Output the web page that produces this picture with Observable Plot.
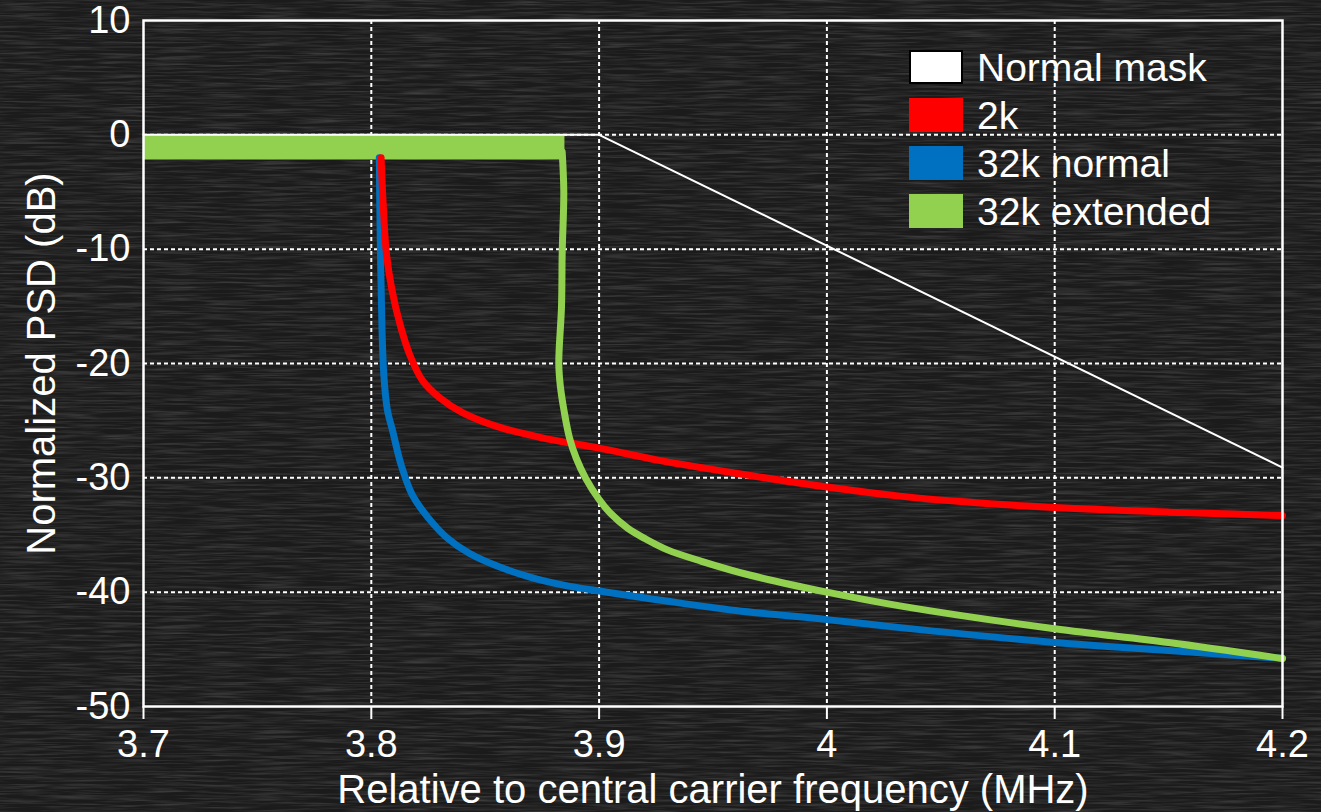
<!DOCTYPE html>
<html><head><meta charset="utf-8">
<script src="https://cdn.jsdelivr.net/npm/d3@7"></script>
<script src="https://cdn.jsdelivr.net/npm/@observablehq/plot@0.6"></script>
<style>
html,body{margin:0;padding:0;background:#1c1c1c;}
#wrap{position:relative;width:1321px;height:812px;overflow:hidden;font-family:"Liberation Sans",Arial,sans-serif;}
#bg{position:absolute;left:0;top:0;}
#chart{position:absolute;left:0;top:0;}
#legend{position:absolute;left:909px;top:43px;color:white;font-size:39px;line-height:1;}
.row{display:flex;align-items:center;height:48px;}
.sw{width:54px;height:34px;margin-right:14px;box-sizing:border-box;}
</style></head><body>
<div id="wrap">
<svg id="bg" width="1321" height="812">
  <filter id="grain" x="0" y="0" width="100%" height="100%">
    <feTurbulence type="fractalNoise" baseFrequency="0.02 0.45" numOctaves="3" seed="7"/>
    <feColorMatrix type="matrix" values="0 0 0 0 1  0 0 0 0 1  0 0 0 0 1  1.4 0 0 0 -0.55"/>
  </filter>
  <rect width="1321" height="812" fill="#1b1b1b"/>
  <rect width="1321" height="812" filter="url(#grain)" opacity="0.22"/>
</svg>
<div id="chart"></div>
<div id="legend"></div>
</div>
<script>
// ---- data ----
const xTicks = [3.7, 3.8, 3.9, 4.0, 4.1, 4.2];
const yTicks = [10, 0, -10, -20, -30, -40, -50];

const seriesNames = ["Normal mask", "2k", "32k normal", "32k extended"];
const seriesColors = ["#ffffff", "#ff0000", "#0070c0", "#92d050"];

const maskFreq = [3.7, 3.9, 4.2];
const maskPsd  = [0, 0, -29.1];

const redFreq = [3.8043, 3.8052, 3.8066, 3.8090, 3.8125, 3.8170, 3.8225, 3.8300, 3.8400, 3.8550, 3.8750, 3.9000, 3.9270, 3.9600, 4.0000, 4.0320, 4.0600, 4.1000, 4.1500, 4.2000];
const redPsd  = [-2, -6, -10.3, -13.5, -16.5, -19.3, -21.5, -23.0, -24.3, -25.5, -26.5, -27.4, -28.5, -29.6, -30.8, -31.6, -32.1, -32.6, -33.0, -33.3];

const blueFreq = [3.8035, 3.8040, 3.8047, 3.8055, 3.8070, 3.8095, 3.8130, 3.8180, 3.8250, 3.8330, 3.8430, 3.8550, 3.8700, 3.8850, 3.9000, 3.9270, 3.9600, 4.0000, 4.0320, 4.1000, 4.1500, 4.2000];
const bluePsd  = [-2, -10, -17, -21, -24, -26, -28.8, -31.5, -33.5, -35.2, -36.6, -37.7, -38.7, -39.4, -39.9, -40.7, -41.6, -42.4, -43.1, -44.4, -45.1, -45.8];

const greenBandFreq = [3.7, 3.885];
const greenBandTop = [0, 0];
const greenBandBottom = [-2.2, -2.2];

const greenFreq = [3.8838, 3.8845, 3.8838, 3.8835, 3.8823, 3.8830, 3.8845, 3.8870, 3.8900, 3.8940, 3.9000, 3.9050, 3.9125, 3.9200, 3.9300, 3.9450, 3.9660, 4.0000, 4.0320, 4.1000, 4.1500, 4.2000];
const greenPsd  = [-1.5, -5, -10.3, -15, -20, -22, -24, -26.5, -28.3, -30, -31.9, -33.1, -34.4, -35.3, -36.3, -37.3, -38.5, -40.0, -41.2, -43.2, -44.4, -45.8];

const xTitle = "Relative to central carrier frequency (MHz)";
const yTitle = "Normalized PSD (dB)";

// ---- build tables ----
const zip = (xs, ys) => xs.map((x, i) => ({x, y: ys[i]}));
const mask = zip(maskFreq, maskPsd);
const red = zip(redFreq, redPsd);
const blue = zip(blueFreq, bluePsd);
const green = zip(greenFreq, greenPsd);
const band = greenBandFreq.map((x, i) => ({x, y1: greenBandBottom[i], y2: greenBandTop[i]}));

const dotted = {stroke: "white", strokeOpacity: 1, strokeWidth: 2, strokeDasharray: "4,3"};
const lw = 7;

const chart = Plot.plot({
  width: 1321,
  height: 812,
  marginLeft: 143,
  marginRight: 39,
  marginTop: 20,
  marginBottom: 106,
  style: {background: "transparent", color: "white", fontFamily: "'Liberation Sans', Arial, sans-serif", overflow: "visible"},
  x: {domain: [3.7, 4.2]},
  y: {domain: [-50, 10]},
  marks: [
    Plot.gridX(xTicks.slice(1, -1), dotted),
    Plot.gridY(yTicks.slice(1, -1), dotted),
    Plot.areaY(band, {x: "x", y1: "y1", y2: "y2", fill: seriesColors[3]}),
    Plot.line(mask, {x: "x", y: "y", stroke: seriesColors[0], strokeWidth: 2}),
    Plot.line(blue, {x: "x", y: "y", stroke: seriesColors[2], strokeWidth: lw, curve: "catmull-rom"}),
    Plot.line(red, {x: "x", y: "y", stroke: seriesColors[1], strokeWidth: lw, curve: "catmull-rom"}),
    Plot.line(green, {x: "x", y: "y", stroke: seriesColors[3], strokeWidth: lw, curve: "catmull-rom"}),
    Plot.frame({stroke: "white", strokeWidth: 2.5}),
    Plot.axisX(xTicks, {tickSize: 13, tickPadding: 11, fontSize: 38, strokeWidth: 2, tickFormat: d => String(+d.toFixed(1)), label: null}),
    Plot.axisY(yTicks, {tickSize: 0, tickPadding: 13, fontSize: 38, tickFormat: d => String(d), label: null}),
    Plot.text([xTitle], {frameAnchor: "bottom", lineAnchor: "middle", textAnchor: "middle", dy: 84, fontSize: 40, fill: "white"}),
    Plot.text([yTitle], {frameAnchor: "left", lineAnchor: "middle", textAnchor: "middle", rotate: -90, dx: -101, fontSize: 40, fill: "white"})
  ]
});
document.getElementById("chart").appendChild(chart);

// ---- legend ----
const legend = document.getElementById("legend");
seriesNames.forEach((name, i) => {
  const row = document.createElement("div");
  row.className = "row";
  const sw = document.createElement("div");
  sw.className = "sw";
  sw.style.background = seriesColors[i];
  if (i === 0) sw.style.border = "2px solid black";
  const t = document.createElement("span");
  t.textContent = name;
  row.appendChild(sw);
  row.appendChild(t);
  legend.appendChild(row);
});
</script>
</body></html>
